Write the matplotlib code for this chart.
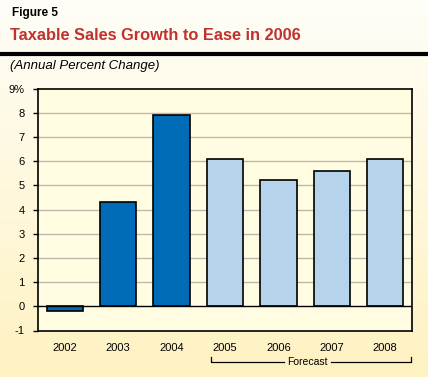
import numpy as np
import matplotlib.pyplot as plt
from matplotlib.colors import LinearSegmentedColormap

# データ
years = ['2002', '2003', '2004', '2005', '2006', '2007', '2008']
pct_change = [-0.2, 4.3, 7.9, 6.1, 5.2, 5.6, 6.1]
is_forecast = [False, False, False, True, True, True, True]
y_ticks = [-1, 0, 1, 2, 3, 4, 5, 6, 7, 8, 9]
y_tick_labels = ['-1', '0', '1', '2', '3', '4', '5', '6', '7', '8', '9%']

plt.rcParams['font.family'] = ['Liberation Sans', 'DejaVu Sans']

W, H = 428, 377
fig = plt.figure(figsize=(W / 100, H / 100), dpi=100)

# 背景グラデーション
bg = fig.add_axes([0, 0, 1, 1])
cmap = LinearSegmentedColormap.from_list('bg', ['#fefef8', '#fff2c2'])
bg.imshow(np.linspace(0, 1, 256).reshape(-1, 1), aspect='auto', cmap=cmap,
          extent=[0, 1, 0, 1], origin='upper')
bg.set_xlim(0, 1)
bg.set_ylim(0, 1)
bg.axis('off')

# タイトル
fig.text(12 / W, 1 - 13 / H, 'Figure 5', fontsize=8.5, fontweight='bold', va='center')
fig.text(10 / W, 1 - 36 / H, 'Taxable Sales Growth to Ease in 2006', fontsize=11.8,
         fontweight='bold', color='#c0322d', va='center')
bg.plot([0, 1], [1 - 53.5 / H, 1 - 53.5 / H], color='black', linewidth=3)
fig.text(10 / W, 1 - 66 / H, '(Annual Percent Change)', fontsize=9.5, style='italic', va='center')

# グラフ本体
left, right, top, bottom = 38, 412, 88.5, 330.5
ax = fig.add_axes([left / W, 1 - bottom / H, (right - left) / W, (bottom - top) / H])
ax.set_facecolor('#fffce2')

x = np.arange(len(years))
colors = ['#b5d3ea' if f else '#006bb6' for f in is_forecast]
ax.bar(x, pct_change, width=0.68, color=colors, edgecolor='black', linewidth=1.2, zorder=3)

ax.set_xlim(-0.5, len(years) - 0.5)
ax.set_ylim(-1, 9)
ax.set_yticks(y_ticks)
ax.set_yticklabels(y_tick_labels, fontsize=8)
ax.set_xticks(x)
ax.set_xticklabels(years, fontsize=8)
ax.tick_params(axis='x', length=0, pad=9)
ax.tick_params(axis='y', length=3.5, width=1, direction='out', pad=6)
for yl in y_ticks[2:-1]:
    ax.axhline(yl, color='#bdb9ad', linewidth=1, zorder=1)
ax.axhline(0, color='black', linewidth=1, zorder=4)
for s in ax.spines.values():
    s.set_linewidth(1.2)

# 予測区間ブラケット
fc_idx = [i for i, f in enumerate(is_forecast) if f]
bx0, bx1 = fc_idx[0] - 0.27, fc_idx[-1] + 0.48
by = -2.32
ax.plot([bx0, bx0, 4.1], [by + 0.22, by, by], color='black', linewidth=0.9, clip_on=False)
ax.plot([4.98, bx1, bx1], [by, by, by + 0.22], color='black', linewidth=0.9, clip_on=False)
ax.text(4.54, by, 'Forecast', fontsize=7.5, ha='center', va='center')

fig.savefig('out.png', dpi=100)
